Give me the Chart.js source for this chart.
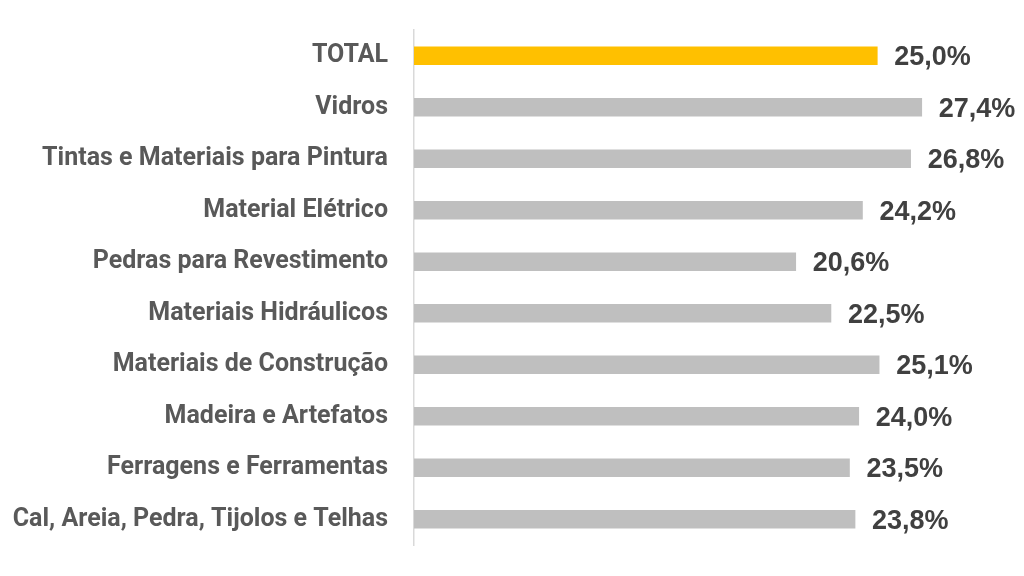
<!DOCTYPE html>
<html>
<head>
<meta charset="utf-8">
<script src="https://cdn.jsdelivr.net/npm/chart.js@4"></script>
<style>
  html, body { margin: 0; padding: 0; background: #ffffff; }
  #wrap { width: 1024px; height: 576px; }
</style>
</head>
<body>
<div id="wrap"><canvas id="barChart" width="1024" height="576"></canvas></div>
<script>
// Categories, top to bottom
const categories = [
    'TOTAL',
    'Vidros',
    'Tintas e Materiais para Pintura',
    'Material Elétrico',
    'Pedras para Revestimento',
    'Materiais Hidráulicos',
    'Materiais de Construção',
    'Madeira e Artefatos',
    'Ferragens e Ferramentas',
    'Cal, Areia, Pedra, Tijolos e Telhas'
];

// Values in %
const values = [25.0, 27.4, 26.8, 24.2, 20.6, 22.5, 25.1, 24.0, 23.5, 23.8];

// TOTAL bar highlighted in gold
const barColors = categories.map(c => c === 'TOTAL' ? '#FFC000' : '#BFBFBF');

// Small plugin to write the value at the end of each bar
const valueLabels = {
    id: 'valueLabels',
    afterDatasetsDraw(chart) {
        const ctx = chart.ctx;
        const meta = chart.getDatasetMeta(0);
        ctx.save();
        ctx.font = 'bold 27px "Liberation Sans", Arial, sans-serif';
        ctx.fillStyle = '#404040';
        ctx.textAlign = 'left';
        ctx.textBaseline = 'middle';
        meta.data.forEach((bar, i) => {
            const txt = values[i].toFixed(1).replace('.', ',') + '%';
            ctx.fillText(txt, bar.x + 17, bar.y + 2);
        });
        ctx.restore();
    }
};

const ctx = document.getElementById('barChart').getContext('2d');
window.myChart = new Chart(ctx, {
    type: 'bar',
    data: {
        labels: categories,
        datasets: [{
            data: values,
            backgroundColor: barColors,
            barThickness: 18
        }]
    },
    options: {
        indexAxis: 'y',
        responsive: false,
        animation: false,
        layout: {
            padding: { top: 30, bottom: 31, left: 0, right: 17 }
        },
        scales: {
            x: {
                min: 0,
                max: 32,
                display: false
            },
            y: {
                afterFit(scale) {
                    scale.width = 414;
                    scale.paddingTop = 0;
                    scale.paddingBottom = 0;
                },
                grid: { display: false, drawTicks: false },
                border: { display: true, color: '#D9D9D9', width: 1.5 },
                ticks: {
                    padding: 26,
                    color: '#595959',
                    font: { family: 'Roboto, "Noto Sans", sans-serif', size: 25, weight: 'bold' }
                }
            }
        },
        plugins: {
            legend: { display: false },
            tooltip: { enabled: false }
        }
    },
    plugins: [valueLabels]
});
</script>
</body>
</html>
